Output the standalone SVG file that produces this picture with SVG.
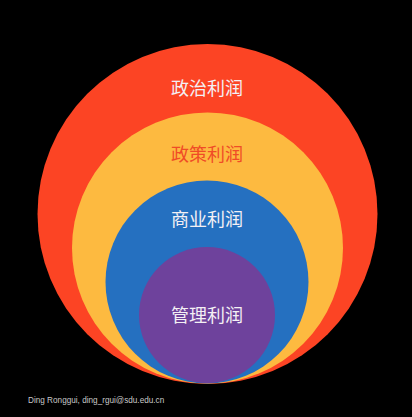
<svg xmlns="http://www.w3.org/2000/svg" width="412" height="417" viewBox="0 0 412 417">
<style>
.lbl{font-family:"Noto Sans CJK SC","Noto Sans",sans-serif;font-size:18px;text-anchor:middle;fill:#f4f0f4}
.foot{font-family:"Liberation Sans","DejaVu Sans",sans-serif;font-size:8.2px;fill:#c8c8c8}
</style>
<rect x="0" y="0" width="412" height="417" fill="#000"/>
<g id="political">
<circle cx="207.5" cy="214" r="170" fill="#fc4424"/>
<text class="lbl" x="207" y="95">政治利润</text>
</g>
<g id="policy">
<circle cx="207.5" cy="248" r="135.5" fill="#fdba40"/>
<text class="lbl" x="207" y="161" style="fill:#f04c26">政策利润</text>
</g>
<g id="business">
<circle cx="207" cy="282" r="101.5" fill="#2570c0"/>
<text class="lbl" x="207" y="226">商业利润</text>
</g>
<g id="management">
<circle cx="207" cy="315" r="68" fill="#6e429c"/>
<text class="lbl" x="207" y="322">管理利润</text>
</g>
<g id="connectors"/>
<text class="foot" x="28" y="403">Ding Ronggui, ding_rgui@sdu.edu.cn</text>
</svg>
